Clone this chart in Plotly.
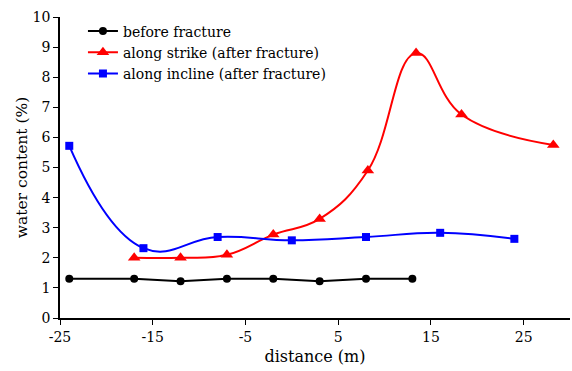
import plotly.graph_objects as go

before_x = [-24, -17, -12, -7, -2, 3, 8, 13]
before_y = [1.3, 1.3, 1.22, 1.3, 1.3, 1.22, 1.3, 1.3]

strike_x = [-17, -12, -7, -2, 3, 8.2, 13.4, 18.3, 28.2]
strike_y = [2.0, 2.0, 2.1, 2.77, 3.29, 4.9, 8.8, 6.76, 5.75]

incline_x = [-24, -16, -8, 0, 8, 16, 24]
incline_y = [5.72, 2.32, 2.69, 2.58, 2.69, 2.83, 2.63]

x_ticks = [-25, -15, -5, 5, 15, 25]
x_labels = ["-25", "-15", "-5", "5", "15", "25"]
y_ticks = list(range(0, 11))

FONT = "DejaVu Serif"

fig = go.Figure()
fig.add_trace(go.Scatter(x=before_x, y=before_y, mode="lines+markers",
                         name="before fracture",
                         line=dict(color="black", width=2),
                         marker=dict(symbol="circle", size=8, color="black")))
fig.add_trace(go.Scatter(x=strike_x, y=strike_y, mode="lines+markers",
                         name="along strike (after fracture)",
                         line=dict(color="#ff0000", width=2, shape="spline", smoothing=1.2),
                         marker=dict(symbol="triangle-up", size=11, color="#ff0000")))
fig.add_trace(go.Scatter(x=incline_x, y=incline_y, mode="lines+markers",
                         name="along incline (after fracture)",
                         line=dict(color="#0000ff", width=2, shape="spline", smoothing=1.25),
                         marker=dict(symbol="square", size=8, color="#0000ff")))

fig.update_layout(
    width=572, height=371,
    margin=dict(l=60, r=2, t=17, b=53),
    paper_bgcolor="white", plot_bgcolor="white",
    font=dict(family=FONT, size=14, color="black"),
    showlegend=True,
    legend=dict(x=0.045, y=1.005, xanchor="left", yanchor="top",
                bgcolor="rgba(0,0,0,0)", font=dict(family=FONT, size=14),
                tracegroupgap=0, itemwidth=30),
    xaxis=dict(range=[-25, 30], tickvals=x_ticks, ticktext=x_labels,
               showgrid=False, zeroline=False,
               showline=True, linecolor="black", linewidth=1.5,
               ticks="outside", ticklen=5, tickcolor="black",
               title=dict(text="distance (m)", standoff=7, font=dict(family=FONT, size=16)),
               tickfont=dict(family=FONT, size=14)),
    yaxis=dict(range=[0, 10], tickvals=y_ticks, showgrid=False, zeroline=False,
               showline=True, linecolor="black", linewidth=1.5,
               ticks="outside", ticklen=5, tickcolor="black",
               title=dict(text="water content (%)", standoff=1, font=dict(family=FONT, size=15.5)),
               tickfont=dict(family=FONT, size=14)),
)

fig.write_html("out.html")
